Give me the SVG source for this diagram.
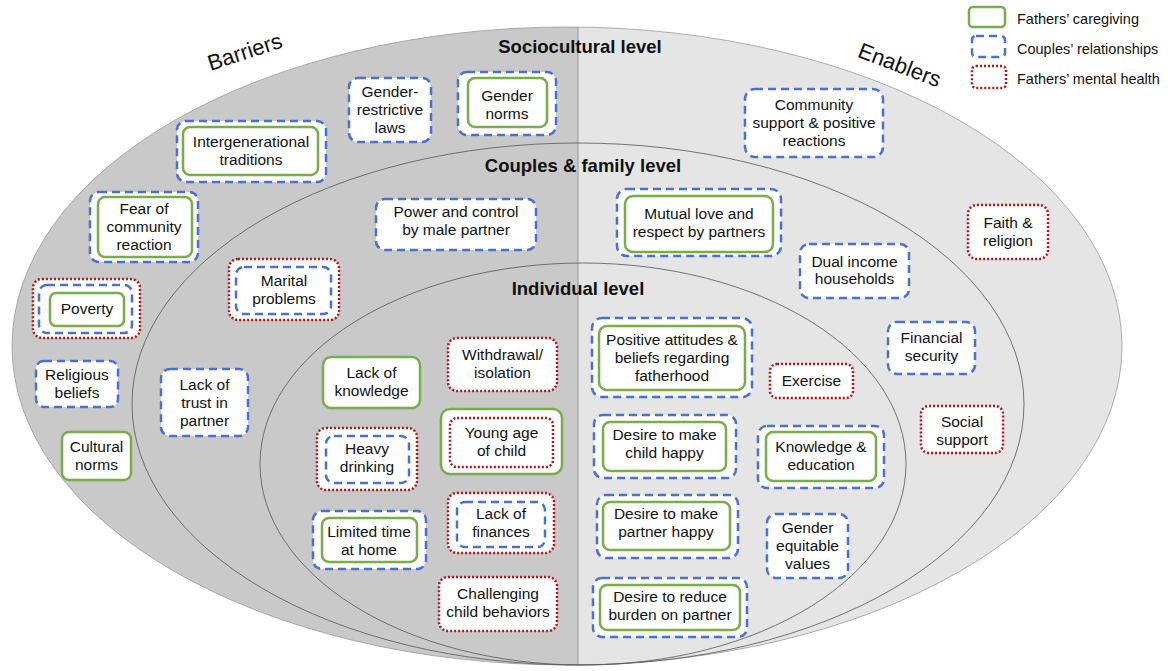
<svg xmlns="http://www.w3.org/2000/svg" width="1176" height="671" viewBox="0 0 1176 671">
<defs>
<clipPath id="leftHalf"><rect x="0" y="0" width="578" height="671"/></clipPath>
<style>
.g{fill:#fff;stroke:#79ad4a;stroke-width:2.5}
.b{fill:#fff;stroke:#4a72cc;stroke-width:2.5;stroke-dasharray:8 5}
.r{fill:#fff;stroke:#b0191b;stroke-width:2.5;stroke-dasharray:2 2}
.t{font-family:"Liberation Sans",Arial,sans-serif;font-size:15.5px;fill:#111;text-anchor:middle}
.h{font-family:"Liberation Sans",Arial,sans-serif;font-size:18.5px;font-weight:bold;fill:#111;text-anchor:middle}
.lg{font-family:"Liberation Sans",Arial,sans-serif;font-size:14.5px;fill:#111}
.side{font-family:"Liberation Sans",Arial,sans-serif;font-size:22px;fill:#111;text-anchor:middle}
.ring{fill:none;stroke:#555;stroke-width:0.8}
</style>
</defs>
<rect width="1176" height="671" fill="#fff"/>
<g id="background">
<ellipse cx="567" cy="346" rx="555" ry="319" fill="#e5e5e5"/>
<ellipse cx="567" cy="346" rx="555" ry="319" fill="#c9c9c9" clip-path="url(#leftHalf)"/>
<line x1="578" y1="27" x2="578" y2="665" stroke="#888" stroke-width="0.8"/>
<ellipse cx="567" cy="346" rx="555" ry="319" fill="none" stroke="#999" stroke-width="0.8"/>
<ellipse class="ring" cx="578" cy="404" rx="446" ry="261"/>
<ellipse class="ring" cx="583" cy="464" rx="323" ry="201"/>
</g>
<g id="labels">
<text class="side" transform="translate(247,59) rotate(-18)">Barriers</text>
<text class="side" transform="translate(897,72) rotate(21)">Enablers</text>
<text class="h" x="580" y="53">Sociocultural level</text>
<text class="h" x="583" y="172">Couples &amp; family level</text>
<text class="h" x="578" y="295">Individual level</text>
</g>
<g id="legend">
<rect class="g" x="969" y="7" width="36" height="20" rx="4"/>
<rect class="b" x="972" y="36" width="33" height="21" rx="4"/>
<rect class="r" x="972" y="66" width="34" height="22" rx="4"/>
<text class="lg" x="1017" y="24">Fathers’ caregiving</text>
<text class="lg" x="1017" y="54">Couples’ relationships</text>
<text class="lg" x="1017" y="84">Fathers’ mental health</text>
</g>
<g id="connectors"></g>
<g id="n-laws"><rect class="b" x="349" y="78" width="82" height="64" rx="9"/><text class="t" x="390" y="97">Gender-</text><text class="t" x="390" y="115">restrictive</text><text class="t" x="390" y="133">laws</text></g>
<g id="n-gender-norms"><rect class="b" x="458" y="72" width="98" height="63" rx="9"/><rect class="g" x="468" y="78" width="79" height="49" rx="7"/><text class="t" x="507" y="101">Gender</text><text class="t" x="507" y="119">norms</text></g>
<g id="n-intergen"><rect class="b" x="177" y="121" width="149" height="61" rx="9"/><rect class="g" x="183" y="127" width="135" height="48" rx="7"/><text class="t" x="251" y="147">Intergenerational</text><text class="t" x="251" y="165">traditions</text></g>
<g id="n-fear"><rect class="b" x="90" y="192" width="108" height="70" rx="9"/><rect class="g" x="98" y="197" width="94" height="60" rx="7"/><text class="t" x="144" y="214">Fear of</text><text class="t" x="144" y="232">community</text><text class="t" x="144" y="250">reaction</text></g>
<g id="n-poverty"><rect class="r" x="33" y="279" width="107" height="59" rx="9"/><rect class="b" x="39" y="285" width="93" height="48" rx="8"/><rect class="g" x="50" y="293" width="74" height="33" rx="6"/><text class="t" x="87" y="314">Poverty</text></g>
<g id="n-religious"><rect class="b" x="36" y="361" width="82" height="46" rx="8"/><text class="t" x="77" y="380">Religious</text><text class="t" x="77" y="398">beliefs</text></g>
<g id="n-cultural"><rect class="g" x="62" y="432" width="69" height="48" rx="7"/><text class="t" x="96.5" y="452">Cultural</text><text class="t" x="96.5" y="470">norms</text></g>
<g id="n-power"><rect class="b" x="376" y="199" width="160" height="51" rx="9"/><text class="t" x="456" y="217">Power and control</text><text class="t" x="456" y="235">by male partner</text></g>
<g id="n-marital"><rect class="r" x="229" y="259" width="110" height="61" rx="9"/><rect class="b" x="236" y="267" width="95" height="47" rx="8"/><text class="t" x="284" y="286">Marital</text><text class="t" x="284" y="304">problems</text></g>
<g id="n-trust"><rect class="b" x="161" y="369" width="87" height="67" rx="9"/><text class="t" x="204.5" y="390">Lack of</text><text class="t" x="204.5" y="408">trust in</text><text class="t" x="204.5" y="426">partner</text></g>
<g id="n-knowledge"><rect class="g" x="323" y="357" width="97" height="51" rx="8"/><text class="t" x="371.5" y="378">Lack of</text><text class="t" x="371.5" y="396">knowledge</text></g>
<g id="n-withdrawal"><rect class="r" x="448" y="338" width="109" height="53" rx="9"/><text class="t" x="502.5" y="360">Withdrawal/</text><text class="t" x="502.5" y="378">isolation</text></g>
<g id="n-drinking"><rect class="r" x="317" y="428" width="100" height="62" rx="9"/><rect class="b" x="326" y="436" width="83" height="47" rx="8"/><text class="t" x="367" y="454">Heavy</text><text class="t" x="367" y="472">drinking</text></g>
<g id="n-young"><rect class="g" x="441" y="409" width="121" height="65" rx="9"/><rect class="r" x="450" y="418" width="103" height="49" rx="7"/><text class="t" x="501.5" y="438">Young age</text><text class="t" x="501.5" y="456">of child</text></g>
<g id="n-limited"><rect class="b" x="313" y="511" width="113" height="58" rx="9"/><rect class="g" x="322" y="518" width="95" height="44" rx="7"/><text class="t" x="369" y="537">Limited time</text><text class="t" x="369" y="555">at home</text></g>
<g id="n-finances"><rect class="r" x="448" y="493" width="106" height="60" rx="9"/><rect class="b" x="457" y="502" width="88" height="45" rx="8"/><text class="t" x="501" y="519">Lack of</text><text class="t" x="501" y="537">finances</text></g>
<g id="n-challenging"><rect class="r" x="439" y="577" width="118" height="54" rx="9"/><text class="t" x="498" y="599">Challenging</text><text class="t" x="498" y="617">child behaviors</text></g>
<g id="n-positive"><rect class="b" x="592" y="318" width="160" height="79" rx="10"/><rect class="g" x="599" y="326" width="146" height="64" rx="8"/><text class="t" x="672" y="345">Positive attitudes &amp;</text><text class="t" x="672" y="363">beliefs regarding</text><text class="t" x="672" y="381">fatherhood</text></g>
<g id="n-exercise"><rect class="r" x="770" y="364" width="83" height="34" rx="7"/><text class="t" x="811.5" y="386">Exercise</text></g>
<g id="n-child-happy"><rect class="b" x="594" y="415" width="142" height="63" rx="9"/><rect class="g" x="603" y="422" width="123" height="49" rx="7"/><text class="t" x="664.5" y="440">Desire to make</text><text class="t" x="664.5" y="458">child happy</text></g>
<g id="n-knowledge-edu"><rect class="b" x="758" y="426" width="126" height="62" rx="9"/><rect class="g" x="766" y="432" width="110" height="49" rx="7"/><text class="t" x="821" y="452">Knowledge &amp;</text><text class="t" x="821" y="470">education</text></g>
<g id="n-partner-happy"><rect class="b" x="597" y="495" width="141" height="63" rx="9"/><rect class="g" x="603" y="502" width="127" height="48" rx="7"/><text class="t" x="666" y="519">Desire to make</text><text class="t" x="666" y="537">partner happy</text></g>
<g id="n-equitable"><rect class="b" x="767" y="514" width="81" height="64" rx="9"/><text class="t" x="807.5" y="533">Gender</text><text class="t" x="807.5" y="551">equitable</text><text class="t" x="807.5" y="569">values</text></g>
<g id="n-reduce"><rect class="b" x="593" y="578" width="154" height="59" rx="9"/><rect class="g" x="600" y="585" width="140" height="45" rx="7"/><text class="t" x="670" y="602">Desire to reduce</text><text class="t" x="670" y="620">burden on partner</text></g>
<g id="n-mutual"><rect class="b" x="617" y="189" width="164" height="67" rx="10"/><rect class="g" x="625" y="196" width="148" height="56" rx="8"/><text class="t" x="699" y="219">Mutual love and</text><text class="t" x="699" y="237">respect by partners</text></g>
<g id="n-dual"><rect class="b" x="800" y="244" width="109" height="54" rx="9"/><text class="t" x="854.5" y="267">Dual income</text><text class="t" x="854.5" y="284">households</text></g>
<g id="n-financial"><rect class="b" x="888" y="322" width="87" height="52" rx="9"/><text class="t" x="931.5" y="343">Financial</text><text class="t" x="931.5" y="361">security</text></g>
<g id="n-social"><rect class="r" x="921" y="406" width="82" height="47" rx="8"/><text class="t" x="962" y="427">Social</text><text class="t" x="962" y="445">support</text></g>
<g id="n-community"><rect class="b" x="745" y="89" width="138" height="68" rx="10"/><text class="t" x="814" y="110">Community</text><text class="t" x="814" y="128">support &amp; positive</text><text class="t" x="814" y="146">reactions</text></g>
<g id="n-faith"><rect class="r" x="968" y="205" width="80" height="54" rx="9"/><text class="t" x="1008" y="228">Faith &amp;</text><text class="t" x="1008" y="246">religion</text></g>
</svg>
